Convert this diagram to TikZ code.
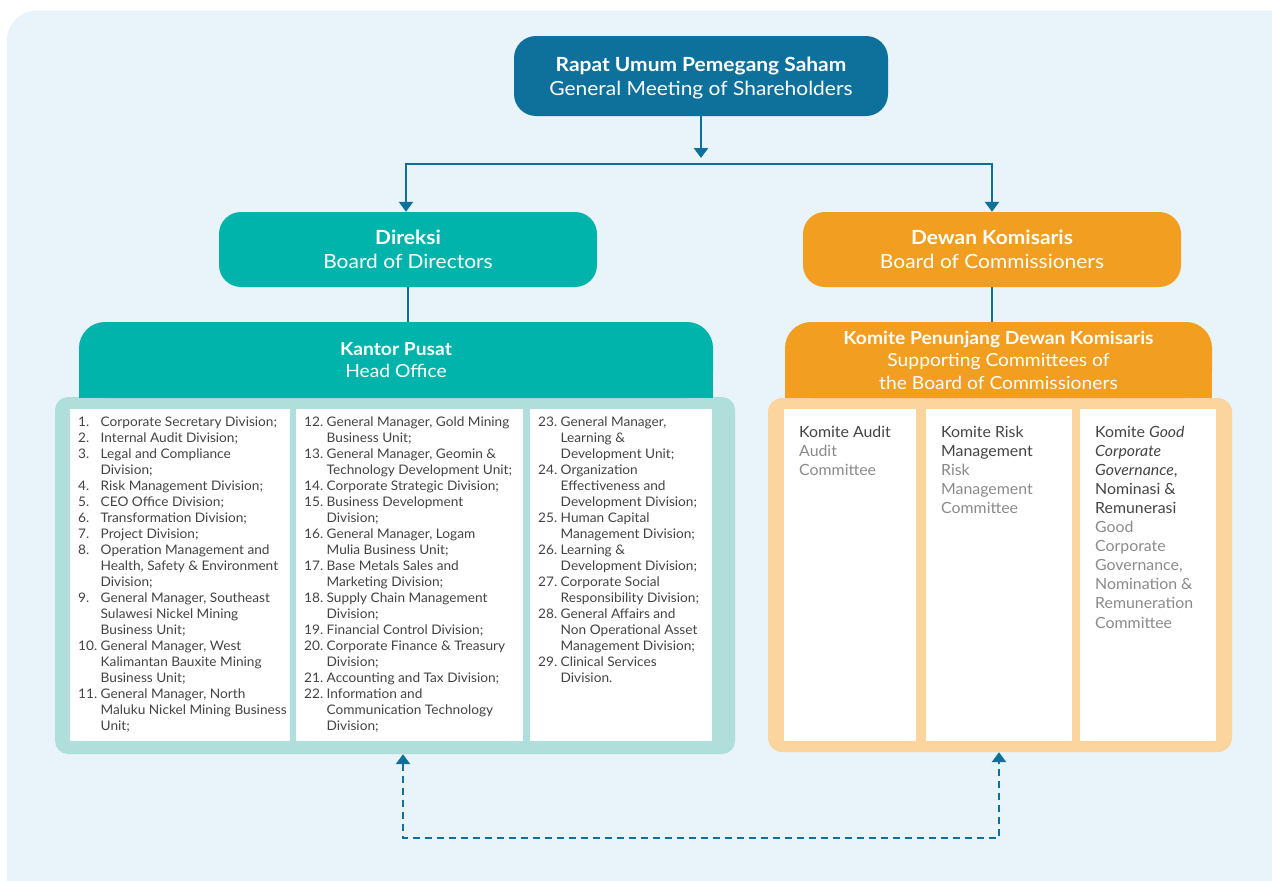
\documentclass[tikz,border=0pt]{standalone}
\usepackage{fontspec}
\setmainfont{Lato}
\newfontfamily\widefont[FakeStretch=1.075]{Lato}
\newfontfamily\hdrfont[FakeStretch=1.07]{Lato}
\newfontfamily\listfont[FakeStretch=1.035]{Lato}
\newfontfamily\comfont[FakeStretch=1.03]{Lato}
\usetikzlibrary{arrows.meta}
\definecolor{bgc}{HTML}{E8F3FA}
\definecolor{navy}{HTML}{0E719C}
\definecolor{tealc}{HTML}{00B4AB}
\definecolor{orangec}{HTML}{F29E21}
\definecolor{lteal}{HTML}{B0DFDB}
\definecolor{lorange}{HTML}{FBD49E}
\definecolor{txtd}{HTML}{444444}
\definecolor{txtg}{HTML}{8A8A8A}
\newcommand\li[2]{\makebox[22.5pt][l]{#1}#2}
\newcommand\lc[1]{\hspace*{22.5pt}#1}
\tikzset{
  topbox/.style={rectangle, rounded corners=22pt, inner sep=0pt, text=white, align=center,
    font=\widefont\fontsize{19.5}{24}\selectfont},
  hdrbox/.style={rectangle, rounded corners=26pt, inner sep=0pt, text=white, align=center,
    font=\hdrfont\fontsize{18}{22.5}\selectfont},
  cont/.style={rectangle, inner sep=0pt},
  col/.style={rectangle, fill=white, inner sep=0pt},
  listtxt/.style={anchor=north west, inner sep=0pt, align=left, text=txtd,
    font=\listfont\fontsize{13.2}{16}\selectfont},
  comtxt/.style={anchor=north west, inner sep=0pt, align=left, text=txtd,
    font=\comfont\fontsize{15.4}{19.1}\selectfont},
  conn/.style={draw=navy, line width=2.6pt},
  tip/.style={-{Triangle[width=14pt,length=10pt]}},
  dashconn/.style={draw=navy, line width=2.8pt, dash pattern=on 7pt off 5pt},
}
\begin{document}
\begin{tikzpicture}[x=1pt,y=-1pt]
\useasboundingbox (0,0) rectangle (1272,881);
\fill[white] (0,0) rectangle (1272,881);
\fill[bgc, rounded corners=30pt] (7,10.5) rectangle (1300,920);

% top
\node[topbox, fill=navy, minimum width=374pt, minimum height=80pt] (rups) at (701,76)
  {\raisebox{-3pt}[\height][\depth]{\begin{tabular}{@{}c@{}}\bfseries Rapat Umum Pemegang Saham\\ General Meeting of Shareholders\end{tabular}}};
\node[topbox, fill=tealc, minimum width=378pt, minimum height=75pt] (dir) at (408,249.5)
  {\bfseries Direksi\\ Board of Directors};
\node[topbox, fill=orangec, minimum width=378pt, minimum height=75pt] (dk) at (992,249.5)
  {\bfseries Dewan Komisaris\\ Board of Commissioners};

% containers
\node[cont, fill=lteal, rounded corners=13pt, minimum width=680pt, minimum height=357pt] (hoc) at (395,575.5) {};
\node[cont, fill=lorange, rounded corners=14pt, minimum width=464pt, minimum height=354pt] (kc) at (1000,575) {};

% headers
\node[hdrbox, fill=tealc, minimum width=634pt, minimum height=76pt] (ko) at (396,360)
  {\phantom{X}};
\fill[tealc] (ko.west) rectangle (ko.south east);
\node[hdrbox, inner sep=0pt] at (ko.center) {\bfseries Kantor Pusat\\ Head Office};
\node[hdrbox, fill=orangec, minimum width=427pt, minimum height=76pt] (kh) at (998.5,360)
  {\phantom{X}};
\fill[orangec] (kh.west) rectangle (kh.south east);
\node[hdrbox] at (kh.center) {\bfseries Komite Penunjang Dewan Komisaris\\ Supporting Committees of\\ the Board of Commissioners};

% white columns
\node[col, minimum width=220pt, minimum height=332pt] (c1) at (180,575) {};
\node[col, minimum width=227pt, minimum height=332pt] (c2) at (409.5,575) {};
\node[col, minimum width=182pt, minimum height=332pt] (c3) at (621,575) {};
\node[col, minimum width=132pt, minimum height=332pt] (k1) at (850,575) {};
\node[col, minimum width=146pt, minimum height=332pt] (k2) at (999,575) {};
\node[col, minimum width=136pt, minimum height=332pt] (k3) at (1148,575) {};

% lists
\node[listtxt] (l1) at (78,416.5) {%
\li{1.}{Corporate Secretary Division;}\\
\li{2.}{Internal Audit Division;}\\
\li{3.}{Legal and Compliance}\\
\lc{Division;}\\
\li{4.}{Risk Management Division;}\\
\li{5.}{CEO Office Division;}\\
\li{6.}{Transformation Division;}\\
\li{7.}{Project Division;}\\
\li{8.}{Operation Management and}\\
\lc{Health, Safety \& Environment}\\
\lc{Division;}\\
\li{9.}{General Manager, Southeast}\\
\lc{Sulawesi Nickel Mining}\\
\lc{Business Unit;}\\
\li{10.}{General Manager, West}\\
\lc{Kalimantan Bauxite Mining}\\
\lc{Business Unit;}\\
\li{11.}{General Manager, North}\\
\lc{Maluku Nickel Mining Business}\\
\lc{Unit;}};
\node[listtxt] (l2) at (304,416.5) {%
\li{12.}{General Manager, Gold Mining}\\
\lc{Business Unit;}\\
\li{13.}{General Manager, Geomin \&}\\
\lc{Technology Development Unit;}\\
\li{14.}{Corporate Strategic Division;}\\
\li{15.}{Business Development}\\
\lc{Division;}\\
\li{16.}{General Manager, Logam}\\
\lc{Mulia Business Unit;}\\
\li{17.}{Base Metals Sales and}\\
\lc{Marketing Division;}\\
\li{18.}{Supply Chain Management}\\
\lc{Division;}\\
\li{19.}{Financial Control Division;}\\
\li{20.}{Corporate Finance \& Treasury}\\
\lc{Division;}\\
\li{21.}{Accounting and Tax Division;}\\
\li{22.}{Information and}\\
\lc{Communication Technology}\\
\lc{Division;}};
\node[listtxt] (l3) at (538,416.5) {%
\li{23.}{General Manager,}\\
\lc{Learning \&}\\
\lc{Development Unit;}\\
\li{24.}{Organization}\\
\lc{Effectiveness and}\\
\lc{Development Division;}\\
\li{25.}{Human Capital}\\
\lc{Management Division;}\\
\li{26.}{Learning \&}\\
\lc{Development Division;}\\
\li{27.}{Corporate Social}\\
\lc{Responsibility Division;}\\
\li{28.}{General Affairs and}\\
\lc{Non Operational Asset}\\
\lc{Management Division;}\\
\li{29.}{Clinical Services}\\
\lc{Division.}};

% committees
\node[comtxt] (t1) at (799,425.5) {Komite Audit\\ \textcolor{txtg}{Audit}\\ \textcolor{txtg}{Committee}};
\node[comtxt] (t2) at (941,425.5) {Komite Risk\\ Management\\ \textcolor{txtg}{Risk}\\ \textcolor{txtg}{Management}\\ \textcolor{txtg}{Committee}};
\node[comtxt] (t3) at (1095,425.5) {Komite \textit{Good}\\ \textit{Corporate}\\ \textit{Governance},\\ Nominasi \&\\ Remunerasi\\
  \textcolor{txtg}{Good}\\ \textcolor{txtg}{Corporate}\\ \textcolor{txtg}{Governance,}\\ \textcolor{txtg}{Nomination \&}\\ \textcolor{txtg}{Remuneration}\\ \textcolor{txtg}{Committee}};

% connectors
\coordinate (bustip) at (701,158);
\coordinate (busL) at (406,164);
\coordinate (busR) at (992,164);
\draw[conn, tip] (rups.south) -- (bustip);
\draw[conn] ([xshift=-1.3pt]busL) -- ([xshift=1.3pt]busR);
\draw[conn, tip] (busL) -- (busL |- dir.north);
\draw[conn, tip] (busR) -- (dk.north);
\draw[conn] (dir.south) -- (dir.south |- ko.north);
\draw[conn] (dk.south) -- (dk.south |- kh.north);

\coordinate (dl) at (403,838);
\coordinate (dr) at (999,838);
\draw[dashconn, {Triangle[width=14pt,length=10pt]}-{Triangle[width=14pt,length=10pt]}]
  (hoc.south -| dl) -- (dl) -- (dr) -- (kc.south -| dr);
\end{tikzpicture}
\end{document}
